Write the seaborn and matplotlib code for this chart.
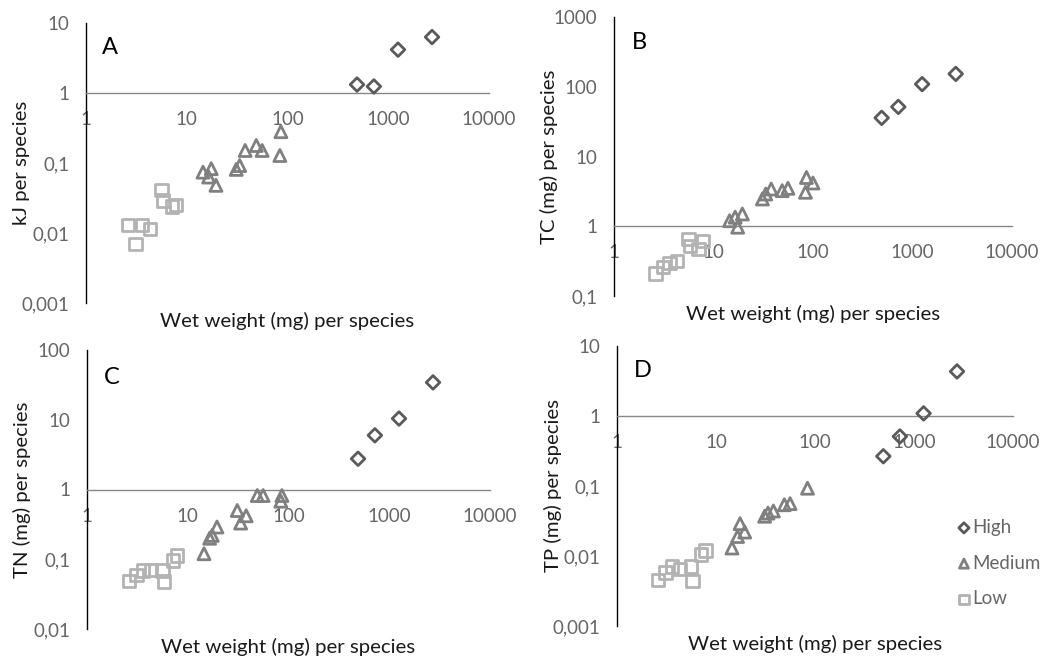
import numpy as np
import pandas as pd
import matplotlib
matplotlib.use("Agg")
import matplotlib.pyplot as plt
import matplotlib.ticker as mticker
import seaborn as sns

sns.set_style("white")
plt.rcParams["font.family"] = ["Lato", "DejaVu Sans"]

# ---- data ----
levels = ["High", "Medium", "Low"]
high_x = [490, 720, 1250, 2720]
medium_x = [14.5, 16.5, 17.5, 19.5, 31, 33.5, 38, 49, 56, 84, 86, 100]
low_x = [2.6, 3.1, 3.6, 4.3, 5.6, 5.8, 7.1, 7.8]

a_high = [1.32, 1.24, 4.16, 6.3]
a_medium = [0.074, 0.063, 0.083, 0.048, 0.081, 0.092, 0.151, 0.178, 0.151, 0.128, 0.28, np.nan]
a_low = [0.013, 0.007, 0.013, 0.0115, 0.041, 0.029, 0.024, 0.025]

b_high = [35.8, 51.4, 109, 153]
b_medium = [1.2, 1.35, 0.97, 1.5, 2.46, 2.9, 3.42, 3.24, 3.5, 3.07, 5.0, 4.17]
b_low = [0.21, 0.26, 0.30, 0.32, 0.66, 0.52, 0.47, 0.62]

c_high = [2.76, 5.98, 10.4, 34.3]
c_medium = [0.12, 0.2, 0.22, 0.29, 0.5, 0.33, 0.42, 0.82, 0.82, 0.68, 0.82, np.nan]
c_low = [0.049, 0.059, 0.069, 0.07, 0.069, 0.048, 0.096, 0.113]

d_high = [0.266, 0.51, 1.09, 4.33]
d_medium = [0.013, 0.019, 0.029, 0.022, 0.037, 0.041, 0.044, 0.054, 0.056, 0.093, np.nan, np.nan]
d_low = [0.0045, 0.0058, 0.0071, 0.0065, 0.0071, 0.0044, 0.0105, 0.012]

panel_letters = ["A", "B", "C", "D"]
y_titles = ["kJ per species", "TC (mg) per species", "TN (mg) per species", "TP (mg) per species"]
x_title = "Wet weight (mg) per species"
y_limits = [(0.001, 10), (0.1, 1000), (0.01, 100), (0.001, 10)]
x_ticks = [1, 10, 100, 1000, 10000]

panels = [
    (a_high, a_medium, a_low),
    (b_high, b_medium, b_low),
    (c_high, c_medium, c_low),
    (d_high, d_medium, d_low),
]

# ---- style ----
marker_map = {"High": "D", "Medium": "^", "Low": "s"}
color_map = {"High": "#5a5a5a", "Medium": "#808080", "Low": "#b3b3b3"}
size_map = {"High": 48, "Medium": 75, "Low": 80}
tick_color = "#666666"

W, H = 1050, 666
fig = plt.figure(figsize=(W / 100, H / 100), dpi=100)

# axes rectangles in pixels: left, top, right, bottom
rects_px = [
    (86, 23, 489, 303),
    (614, 17, 1012, 296),
    (87, 350, 490, 629),
    (617, 346, 1013, 626),
]
letter_pos = [(0.06, 0.914), (0.065, 0.907), (0.062, 0.90), (0.065, 0.914)]

def fmt(v, pos):
    s = f"{v:g}"
    if v < 1:
        s = f"{v:.{int(round(-np.log10(v)))}f}"
    return s.replace(".", ",")

for i, (vals, rect) in enumerate(zip(panels, rects_px)):
    l, t, r, b = rect
    ax = fig.add_axes([l / W, 1 - b / H, (r - l) / W, (b - t) / H])
    xs = {"High": high_x, "Medium": medium_x, "Low": low_x}
    for lev, yv in zip(levels, vals):
        df = pd.DataFrame({"x": xs[lev], "y": yv}).dropna()
        sns.scatterplot(data=df, x="x", y="y", ax=ax, marker=marker_map[lev],
                        s=size_map[lev], color=color_map[lev], facecolor="none",
                        edgecolor=color_map[lev], linewidth=2.0, label=lev, zorder=3)
    ax.set_xscale("log")
    ax.set_yscale("log")
    ax.set_xlim(1, 10000)
    ax.set_ylim(*y_limits[i])
    ax.xaxis.set_major_locator(mticker.FixedLocator(x_ticks))
    ax.xaxis.set_major_formatter(mticker.FuncFormatter(fmt))
    ax.xaxis.set_minor_locator(mticker.NullLocator())
    ax.yaxis.set_major_locator(mticker.LogLocator(base=10, numticks=10))
    ax.yaxis.set_major_formatter(mticker.FuncFormatter(fmt))
    ax.yaxis.set_minor_locator(mticker.NullLocator())
    ax.spines["top"].set_visible(False)
    ax.spines["right"].set_visible(False)
    ax.spines["bottom"].set_position(("data", 1))
    ax.spines["bottom"].set_color("#888888")
    ax.spines["bottom"].set_linewidth(1.0)
    ax.spines["left"].set_color("#000000")
    ax.spines["left"].set_linewidth(1.0)
    ax.tick_params(axis="x", length=0, pad=13, labelsize=13.5, labelcolor=tick_color)
    ax.tick_params(axis="y", length=0, pad=12, labelsize=13.5, labelcolor=tick_color)
    ax.set_xlabel(x_title, fontsize=14.7, color="#1a1a1a")
    ax.xaxis.set_label_coords(0.5, -0.032)
    ax.set_ylabel(y_titles[i], fontsize=14.7, color="#1a1a1a")
    ax.yaxis.set_label_coords(-0.14, 0.5)
    lx, ly = letter_pos[i]
    ax.text(lx, ly, panel_letters[i], transform=ax.transAxes, fontsize=17,
            color="#000000", ha="center", va="center")
    ax.grid(False)
    if i == 3:
        ax.legend(loc="lower left", bbox_to_anchor=(0.843, 0.04), frameon=False,
                  fontsize=13.5, labelcolor=tick_color, handletextpad=0.15,
                  handlelength=0.6, labelspacing=1.0, markerscale=0.75,
                  borderaxespad=0)
    else:
        leg = ax.get_legend()
        if leg is not None:
            leg.remove()

fig.savefig("out.png", dpi=100)
